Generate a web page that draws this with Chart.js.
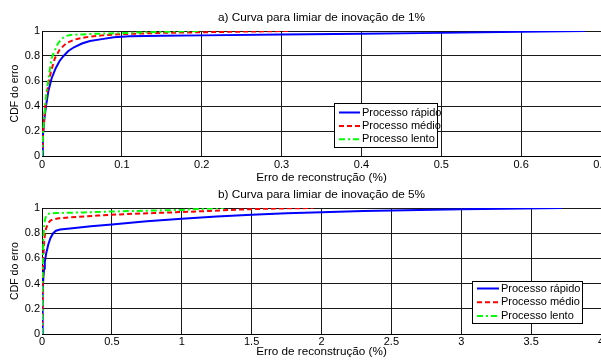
<!DOCTYPE html>
<html>
<head>
<meta charset="utf-8">
<script src="https://cdn.jsdelivr.net/npm/chart.js@4.4.1/dist/chart.umd.min.js"></script>
<style>
  body { margin: 0; background: #fff; }
  canvas { display: block; }
</style>
</head>
<body>
<canvas id="chartA" width="601" height="185"></canvas>
<canvas id="chartB" width="601" height="175"></canvas>
<script>
const seriesNames = ["Processo rápido", "Processo médio", "Processo lento"];
const titleA = "a) Curva para limiar de inovação de 1%";
const titleB = "b) Curva para limiar de inovação de 5%";
const xLabel = "Erro de reconstrução (%)";
const yLabel = "CDF do erro";

const xTicksA = [0, 0.1, 0.2, 0.3, 0.4, 0.5, 0.6, 0.7];
const xTicksB = [0, 0.5, 1, 1.5, 2, 2.5, 3, 3.5, 4];
const yTicks = [0, 0.2, 0.4, 0.6, 0.8, 1];

// a) limiar 1%
const rapidoXA = [0, 0.001, 0.003, 0.005, 0.008, 0.012, 0.017, 0.022, 0.027, 0.033, 0.04, 0.05, 0.06, 0.075, 0.09, 0.11, 0.15, 0.2, 0.3, 0.4, 0.5, 0.6, 0.68];
const rapidoYA = [0, 0.15, 0.3, 0.4, 0.52, 0.62, 0.7, 0.76, 0.8, 0.84, 0.87, 0.9, 0.92, 0.935, 0.95, 0.958, 0.962, 0.965, 0.972, 0.978, 0.985, 0.993, 1.0];
const medioXA = [0, 0.001, 0.003, 0.005, 0.008, 0.011, 0.016, 0.022, 0.03, 0.04, 0.05, 0.06, 0.075, 0.1, 0.15, 0.2, 0.25, 0.31];
const medioYA = [0, 0.15, 0.32, 0.45, 0.58, 0.67, 0.78, 0.85, 0.9, 0.93, 0.945, 0.955, 0.965, 0.975, 0.985, 0.99, 0.995, 1.0];
const lentoXA = [0, 0.001, 0.003, 0.005, 0.008, 0.012, 0.015, 0.02, 0.025, 0.03, 0.035, 0.045, 0.06, 0.08, 0.1, 0.13, 0.17, 0.2];
const lentoYA = [0, 0.15, 0.33, 0.47, 0.62, 0.78, 0.83, 0.9, 0.94, 0.96, 0.968, 0.972, 0.976, 0.98, 0.983, 0.99, 0.996, 1.0];

// b) limiar 5%
const rapidoXB = [0, 0.003, 0.006, 0.01, 0.015, 0.02, 0.03, 0.045, 0.06, 0.08, 0.1, 0.13, 0.2, 0.35, 0.5, 0.75, 1.0, 1.25, 1.5, 1.75, 2.0, 2.3, 2.7, 3.0, 3.3, 3.72];
const rapidoYB = [0, 0.2, 0.35, 0.45, 0.52, 0.57, 0.64, 0.71, 0.76, 0.8, 0.82, 0.83, 0.838, 0.855, 0.87, 0.895, 0.915, 0.933, 0.947, 0.958, 0.967, 0.976, 0.985, 0.99, 0.995, 1.0];
const medioXB = [0, 0.003, 0.006, 0.01, 0.015, 0.02, 0.03, 0.045, 0.06, 0.08, 0.12, 0.2, 0.4, 0.6, 0.8, 1.0, 1.2, 1.4, 1.6, 1.8, 1.94];
const medioYB = [0, 0.3, 0.5, 0.62, 0.72, 0.78, 0.84, 0.88, 0.9, 0.91, 0.918, 0.925, 0.94, 0.952, 0.96, 0.968, 0.977, 0.987, 0.994, 0.998, 1.0];
const lentoXB = [0, 0.003, 0.006, 0.01, 0.015, 0.02, 0.03, 0.05, 0.1, 0.3, 0.5, 0.8, 1.0, 1.15, 1.3];
const lentoYB = [0, 0.4, 0.6, 0.75, 0.85, 0.9, 0.94, 0.955, 0.96, 0.965, 0.972, 0.98, 0.985, 0.993, 1.0];

const FONT = '"Liberation Sans", Arial, sans-serif';
Chart.defaults.font.family = FONT;
Chart.defaults.font.size = 11;
Chart.defaults.color = '#000';

function toPoints(xs, ys) {
  return xs.map((x, i) => ({ x: x, y: ys[i] }));
}

// legenda com caixa, desenhada dentro da área do gráfico
const boxLegend = {
  id: 'boxLegend',
  afterDraw(chart, args, o) {
    const ctx = chart.ctx;
    ctx.save();
    ctx.fillStyle = '#fff';
    ctx.fillRect(o.x, o.y, o.w, o.h);
    ctx.strokeStyle = '#000';
    ctx.lineWidth = 1;
    ctx.strokeRect(o.x + 0.5, o.y + 0.5, o.w, o.h);
    chart.data.datasets.forEach((ds, i) => {
      const cy = o.y + o.padTop + i * o.rowH;
      ctx.strokeStyle = ds.borderColor;
      ctx.lineWidth = 2;
      ctx.setLineDash(ds.borderDash || []);
      ctx.beginPath();
      ctx.moveTo(o.x + o.lineX0, cy);
      ctx.lineTo(o.x + o.lineX1, cy);
      ctx.stroke();
      ctx.setLineDash([]);
      ctx.fillStyle = '#000';
      ctx.font = '11px ' + FONT;
      ctx.textAlign = 'left';
      ctx.textBaseline = 'middle';
      ctx.fillText(ds.label, o.x + o.textX, cy);
    });
    ctx.restore();
  }
};

function makeChart(id, title, series, xMax, xTicks, lay) {
  const ctx = document.getElementById(id).getContext('2d');
  const styles = [
    { color: '#0000ff', dash: [], order: 2 },
    { color: '#ff0000', dash: [5, 3], order: 1 },
    { color: '#00ff00', dash: [6, 3, 2, 3], order: 0 }
  ];
  const datasets = series.map((s, i) => ({
    label: seriesNames[i],
    data: toPoints(s[0], s[1]),
    borderColor: styles[i].color,
    backgroundColor: styles[i].color,
    borderDash: styles[i].dash,
    borderWidth: 2,
    pointRadius: 0,
    showLine: true,
    fill: false,
    tension: 0,
    order: styles[i].order
  }));

  return new Chart(ctx, {
    type: 'scatter',
    data: { datasets: datasets },
    plugins: [boxLegend],
    options: {
      responsive: false,
      animation: false,
      layout: { padding: 0 },
      plugins: {
        legend: { display: false },
        tooltip: { enabled: false },
        title: {
          display: true,
          text: title,
          fullSize: false,
          color: '#000',
          font: { size: 11.8, weight: 'normal' },
          padding: { top: lay.titleTop, bottom: lay.titleBottom }
        },
        boxLegend: lay.legend
      },
      scales: {
        x: {
          type: 'linear',
          min: 0,
          max: xMax,
          afterBuildTicks: s => { s.ticks = xTicks.map(v => ({ value: v })); },
          afterFit: s => { s.height = lay.xAxisH; s.paddingLeft = 0; s.paddingRight = 0; },
          grid: { color: '#1a1a1a', lineWidth: 1, drawTicks: false },
          border: { color: '#000', width: 1 },
          ticks: { padding: lay.xTickPad, maxRotation: 0, autoSkip: false, callback: v => String(v) },
          title: { display: true, text: xLabel, font: { size: 11.7 }, padding: { top: 0, bottom: lay.xTitleBottom } }
        },
        y: {
          type: 'linear',
          min: 0,
          max: 1,
          afterBuildTicks: s => { s.ticks = yTicks.map(v => ({ value: v })); },
          afterFit: s => { s.width = 42; s.paddingTop = 0; s.paddingBottom = 0; },
          grid: { color: '#1a1a1a', lineWidth: 1, drawTicks: false },
          border: { color: '#000', width: 1 },
          ticks: { padding: 2, autoSkip: false, callback: v => String(v) },
          title: { display: true, text: yLabel, font: { size: 10.5 }, padding: { top: 8.7, bottom: 0 } }
        }
      }
    }
  });
}

makeChart('chartA', titleA,
  [[rapidoXA, rapidoYA], [medioXA, medioYA], [lentoXA, lentoYA]],
  0.7, xTicksA,
  {
    titleTop: 10.9, titleBottom: 5.94, xAxisH: 29, xTickPad: 2, xTitleBottom: 0,
    legend: { x: 334, y: 103, w: 103, h: 44, padTop: 9.5, rowH: 13.4, lineX0: 5, lineX1: 26, textX: 28 }
  });

makeChart('chartB', titleB,
  [[rapidoXB, rapidoYB], [medioXB, medioYB], [lentoXB, lentoYB]],
  4, xTicksB,
  {
    titleTop: 2.9, titleBottom: 5.94, xAxisH: 26, xTickPad: 1, xTitleBottom: 1,
    legend: { x: 472, y: 96, w: 110, h: 42, padTop: 7.5, rowH: 13.8, lineX0: 5, lineX1: 27, textX: 29 }
  });
</script>
</body>
</html>
